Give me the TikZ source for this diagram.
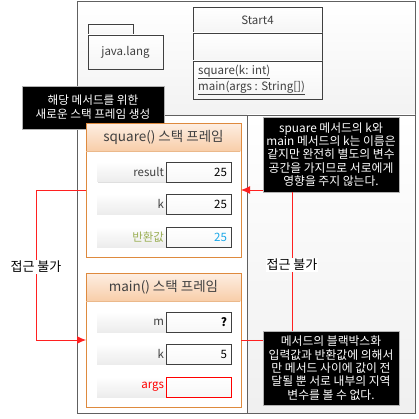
\documentclass[tikz,border=0pt]{standalone}
\usepackage{fontspec}
\setmainfont{Noto Sans CJK KR}
\usetikzlibrary{arrows.meta,shadows}
\definecolor{frameor}{HTML}{DE8A3E}
\definecolor{hdrtop}{HTML}{FDEEE2}
\definecolor{hdrbot}{HTML}{F8CDA8}
\definecolor{txtgray}{HTML}{404040}
\definecolor{retgreen}{HTML}{9BAF55}
\definecolor{valcyan}{HTML}{1CA8E8}
\definecolor{arrred}{HTML}{FF2020}
\tikzset{
  box/.style={inner sep=0pt, outer sep=0pt, anchor=north west},
  region/.style={box, draw=gray!75!black, line width=0.9pt},
  umlbox/.style={box, draw=txtgray, line width=0.8pt, top color=white, bottom color=gray!8},
  blackbox/.style={box, fill=black, draw=gray!60, line width=0.4pt, text=white, align=center,
     font=\fontsize{11.8}{13.4}\selectfont},
  frame/.style={box, draw=frameor, line width=0.9pt, fill=white},
  hdr/.style={box, top color=hdrtop, bottom color=hdrbot, font=\fontsize{13.5}{15}\selectfont, text=txtgray},
  lblbox/.style={box, top color=white, bottom color=gray!15, drop shadow={shadow xshift=1pt, shadow yshift=-1pt, opacity=0.25},
     align=right, text width=64pt, inner xsep=3pt, font=\fontsize{11.5}{13}\selectfont, text=txtgray},
  valbox/.style={box, draw=txtgray, line width=0.8pt, top color=white, bottom color=gray!6,
     drop shadow={shadow xshift=1pt, shadow yshift=-1pt, opacity=0.25},
     align=right, text width=57pt, inner xsep=4pt, font=\fontsize{11.5}{13}\selectfont},
  note/.style={fill=white, inner sep=1pt, font=\fontsize{13}{15}\selectfont},
  redline/.style={draw=arrred, line width=0.9pt},
  redarrow/.style={redline, -{Latex[length=9pt,width=8pt]}},
}
\begin{document}
\begin{tikzpicture}[x=1pt,y=-1pt]
\useasboundingbox (0,0) rectangle (419,419);
% regions
\node[region, top color=white, bottom color=gray!10, minimum width=338pt, minimum height=114pt] (top) at (77,1) {};
\node[region, fill=white, minimum width=170pt, minimum height=298pt] (bl) at (77,115) {};
\node[region, top color=white, bottom color=gray!12, minimum width=168pt, minimum height=298pt] (br) at (247,115) {};
% java.lang package
\node[umlbox, minimum width=45pt, minimum height=11pt] (tab) at (88,24) {};
\node[umlbox, minimum width=75pt, minimum height=34pt, font=\fontsize{11.5}{13}\selectfont, text=txtgray] (pkg) at (88,35) {java.lang};
% Start4 class
\node[umlbox, minimum width=129pt, minimum height=26pt, font=\fontsize{11.5}{13}\selectfont, text=txtgray] (cname) at (193,7) {Start4};
\node[umlbox, minimum width=129pt, minimum height=28pt] (cattr) at (193,33) {};
\node[umlbox, minimum width=129pt, minimum height=38pt] (cops) at (193,61) {};
\node[anchor=west, inner sep=0pt, font=\fontsize{11.5}{13}\selectfont, text=txtgray] (m1) at (198,72) {\underline{square(k: int)}};
\node[anchor=west, inner sep=0pt, font=\fontsize{11.5}{13}\selectfont, text=txtgray] (m2) at (198,88) {\underline{main(args : String[])}};
% black note 1
\node[blackbox, minimum width=142pt, minimum height=43pt, font=\fontsize{11.6}{14}\selectfont] (b1) at (22,86) {해당 메서드를 위한\\새로운 스택 프레임 생성};
% square frame
\node[frame, minimum width=155pt, minimum height=134pt] (sq) at (86,123) {};
\node[hdr, minimum width=154pt, minimum height=28pt] (sqh) at (86.45,123.45) {square() 스택 프레임};
\draw[frameor, line width=0.9pt] (sq.north west) rectangle (sq.south east);
\draw[frameor!60, line width=0.5pt] (sqh.south west) -- (sqh.south east);
\node[lblbox, minimum height=20pt] (l11) at (97,162) {result};
\node[valbox, minimum height=20pt] (v11) at (166,162) {25};
\node[lblbox, minimum height=20pt] (l12) at (97,194) {k};
\node[valbox, minimum height=20pt] (v12) at (166,194) {25};
\node[lblbox, minimum height=20pt, text=retgreen] (l13) at (97,227) {반환값};
\node[valbox, minimum height=20pt, text=valcyan] (v13) at (166,227) {25};
% main frame
\node[frame, minimum width=155pt, minimum height=134pt] (mf) at (86,273) {};
\node[hdr, minimum width=154pt, minimum height=28pt] (mfh) at (86.45,273.45) {main() 스택 프레임};
\draw[frameor, line width=0.9pt] (mf.north west) rectangle (mf.south east);
\draw[frameor!60, line width=0.5pt] (mfh.south west) -- (mfh.south east);
\node[lblbox, minimum height=20pt] (l21) at (97,312) {m};
\node[valbox, minimum height=20pt] (v21) at (166,312) {\textbf{?}};
\node[lblbox, minimum height=20pt] (l22) at (97,344) {k};
\node[valbox, minimum height=20pt] (v22) at (166,344) {5};
\node[lblbox, minimum height=20pt, text=red] (l23) at (97,377) {args};
\node[valbox, minimum height=20pt, draw=red] (v23) at (166,377) {};
% black notes right
\node[blackbox, minimum width=136pt, minimum height=75pt] (b2) at (263,117) {spuare 메서드의 k와\\main 메서드의 k는 이름은\\같지만 완전히 별도의 변수\\공간을 가지므로 서로에게\\영향을 주지 않는다.};
\node[blackbox, minimum width=136pt, minimum height=74pt] (b3) at (263,331) {메서드의 블랙박스화\\입력값과 반환값에 의해서\\만 메서드 사이에 값이 전\\달될 뿐 서로 내부의 지역\\변수를 볼 수 없다.};
% labels
\node[note] (n1) at (36,267) {접근 불가};
\node[note] (n2) at (292,265) {접근 불가};
% connectors
\draw[redline] (sq.west) -| (n1.north);
\draw[redarrow] (n1.south) |- (mf.west);
\draw[redarrow] (b2.south west |- sq.east) -- (sq.east);
\draw[redline] (b2.south -| n2) -- (n2.north);
\draw[redline] (n2.south) -- (n2 |- b3.north);
\draw[redline] (mf.east) -- (mf.east -| b3.west);
\end{tikzpicture}
\end{document}
